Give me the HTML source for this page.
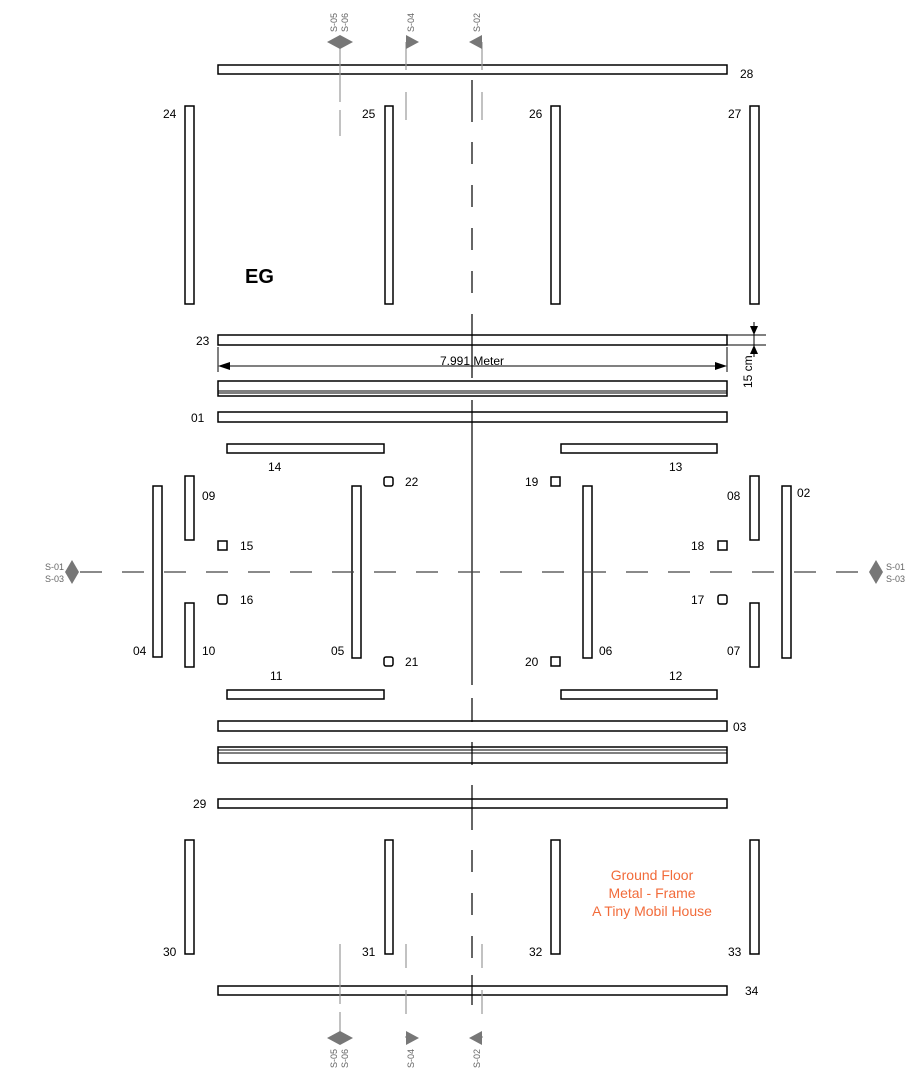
<!DOCTYPE html>
<html><head><meta charset="utf-8"><style>
html,body{margin:0;padding:0;background:#fff;}
svg{display:block;font-family:"Liberation Sans",Arial,sans-serif;}
</style></head><body>
<svg width="923" height="1080" viewBox="0 0 923 1080" xmlns="http://www.w3.org/2000/svg">
<g fill="#fff" stroke="#000" stroke-width="1.5">
<rect x="218" y="65" width="509" height="9"/>
<rect x="185" y="106" width="9" height="198"/>
<rect x="385" y="106" width="8" height="198"/>
<rect x="551" y="106" width="9" height="198"/>
<rect x="750" y="106" width="9" height="198"/>
<rect x="218" y="335" width="509" height="10"/>
<rect x="218" y="381" width="509" height="15"/>
<rect x="218" y="412" width="509" height="10"/>
<rect x="227" y="444" width="157" height="9"/>
<rect x="561" y="444" width="156" height="9"/>
<rect x="185" y="476" width="9" height="64"/>
<rect x="185" y="603" width="9" height="64"/>
<rect x="750" y="476" width="9" height="64"/>
<rect x="750" y="603" width="9" height="64"/>
<rect x="153" y="486" width="9" height="171"/>
<rect x="352" y="486" width="9" height="172"/>
<rect x="583" y="486" width="9" height="172"/>
<rect x="782" y="486" width="9" height="172"/>
<rect x="218" y="541" width="9" height="9"/>
<rect x="218" y="595" width="9" height="9" rx="2"/>
<rect x="384" y="477" width="9" height="9" rx="2"/>
<rect x="384" y="657" width="9" height="9" rx="2"/>
<rect x="551" y="477" width="9" height="9"/>
<rect x="551" y="657" width="9" height="9"/>
<rect x="718" y="541" width="9" height="9"/>
<rect x="718" y="595" width="9" height="9" rx="2"/>
<rect x="227" y="690" width="157" height="9"/>
<rect x="561" y="690" width="156" height="9"/>
<rect x="218" y="721" width="509" height="10"/>
<rect x="218" y="747" width="509" height="16"/>
<rect x="218" y="799" width="509" height="9"/>
<rect x="185" y="840" width="9" height="114"/>
<rect x="385" y="840" width="8" height="114"/>
<rect x="551" y="840" width="9" height="114"/>
<rect x="750" y="840" width="9" height="114"/>
<rect x="218" y="986" width="509" height="9"/>
</g>
<g stroke="#000" stroke-width="1">
<line x1="218" y1="391" x2="727" y2="391"/>
<line x1="218" y1="393" x2="727" y2="393"/>
<line x1="218" y1="750" x2="727" y2="750"/>
<line x1="218" y1="753" x2="727" y2="753"/>
<line x1="218" y1="347" x2="218" y2="372"/>
<line x1="727" y1="347" x2="727" y2="372"/>
<line x1="226" y1="366" x2="719" y2="366"/>
<line x1="727" y1="335" x2="766" y2="335"/>
<line x1="727" y1="345" x2="766" y2="345"/>
<line x1="754" y1="322" x2="754" y2="357"/>
</g>
<polygon points="218,366 230,362 230,370" fill="#000"/>
<polygon points="727,366 715,362 715,370" fill="#000"/>
<polygon points="754,335 750,326 758,326" fill="#000"/>
<polygon points="754,345 750,354 758,354" fill="#000"/>
<text x="472" y="365" font-size="12" text-anchor="middle">7.991 Meter</text>
<text transform="translate(752,388) rotate(-90)" font-size="12">15 cm</text>
<!-- center vertical -->
<g stroke="#000" stroke-width="1.2">
<line x1="472" y1="80" x2="472" y2="122"/>
<line x1="472" y1="142" x2="472" y2="335" stroke-dasharray="22 21"/>
<line x1="472" y1="335" x2="472" y2="378"/>
<line x1="472" y1="400" x2="472" y2="685"/>
<line x1="472" y1="698" x2="472" y2="722"/>
<line x1="472" y1="742" x2="472" y2="765"/>
<line x1="472" y1="785" x2="472" y2="830"/>
<line x1="472" y1="850" x2="472" y2="975" stroke-dasharray="22 21"/>
<line x1="472" y1="975" x2="472" y2="1005"/>
</g>
<line x1="80" y1="572" x2="870" y2="572" stroke="#444" stroke-width="1.2" stroke-dasharray="22 20"/>
<polygon points="72,560 79,572 72,584 65,572" fill="#777"/>
<polygon points="876,560 883,572 876,584 869,572" fill="#777"/>
<g font-size="9" fill="#666">
<text x="45" y="570">S-01</text><text x="45" y="582">S-03</text>
<text x="886" y="570">S-01</text><text x="886" y="582">S-03</text>
</g>
<g stroke="#999" stroke-width="1.2">
<line x1="340" y1="42" x2="340" y2="136" stroke-dasharray="60 8"/>
<line x1="406" y1="42" x2="406" y2="136" stroke-dasharray="28 22"/>
<line x1="482" y1="42" x2="482" y2="136" stroke-dasharray="28 22"/>
<line x1="340" y1="944" x2="340" y2="1038" stroke-dasharray="60 8"/>
<line x1="406" y1="944" x2="406" y2="1038" stroke-dasharray="24 22"/>
<line x1="482" y1="944" x2="482" y2="1038" stroke-dasharray="24 22"/>
</g>
<g fill="#777">
<polygon points="327,42 340,35 353,42 340,49"/>
<polygon points="406,35 419,42 406,49"/>
<polygon points="482,35 469,42 482,49"/>
<polygon points="327,1038 340,1031 353,1038 340,1045"/>
<polygon points="406,1031 419,1038 406,1045"/>
<polygon points="482,1031 469,1038 482,1045"/>
</g>
<g font-size="9" fill="#666">
<text transform="translate(337,32) rotate(-90)">S-05</text>
<text transform="translate(348,32) rotate(-90)">S-06</text>
<text transform="translate(414,32) rotate(-90)">S-04</text>
<text transform="translate(480,32) rotate(-90)">S-02</text>
<text transform="translate(337,1068) rotate(-90)">S-05</text>
<text transform="translate(348,1068) rotate(-90)">S-06</text>
<text transform="translate(414,1068) rotate(-90)">S-04</text>
<text transform="translate(480,1068) rotate(-90)">S-02</text>
</g>
<g font-size="12" fill="#000">
<text x="740" y="78">28</text>
<text x="163" y="118">24</text><text x="362" y="118">25</text><text x="529" y="118">26</text><text x="728" y="118">27</text>
<text x="196" y="345">23</text>
<text x="191" y="422">01</text>
<text x="268" y="471">14</text><text x="669" y="471">13</text>
<text x="202" y="500">09</text><text x="405" y="486">22</text><text x="525" y="486">19</text>
<text x="727" y="500">08</text><text x="797" y="497">02</text>
<text x="240" y="550">15</text><text x="691" y="550">18</text>
<text x="240" y="604">16</text><text x="691" y="604">17</text>
<text x="133" y="655">04</text><text x="202" y="655">10</text><text x="331" y="655">05</text>
<text x="405" y="666">21</text><text x="525" y="666">20</text>
<text x="599" y="655">06</text><text x="727" y="655">07</text>
<text x="270" y="680">11</text><text x="669" y="680">12</text>
<text x="733" y="731">03</text>
<text x="193" y="808">29</text>
<text x="163" y="956">30</text><text x="362" y="956">31</text><text x="529" y="956">32</text><text x="728" y="956">33</text>
<text x="745" y="995">34</text>
</g>
<text x="245" y="283" font-size="20" font-weight="bold">EG</text>
<g font-size="14" fill="#f26b3a" text-anchor="middle">
<text x="652" y="880">Ground Floor</text>
<text x="652" y="898">Metal - Frame</text>
<text x="652" y="916">A Tiny Mobil House</text>
</g>
</svg>
</body></html>
